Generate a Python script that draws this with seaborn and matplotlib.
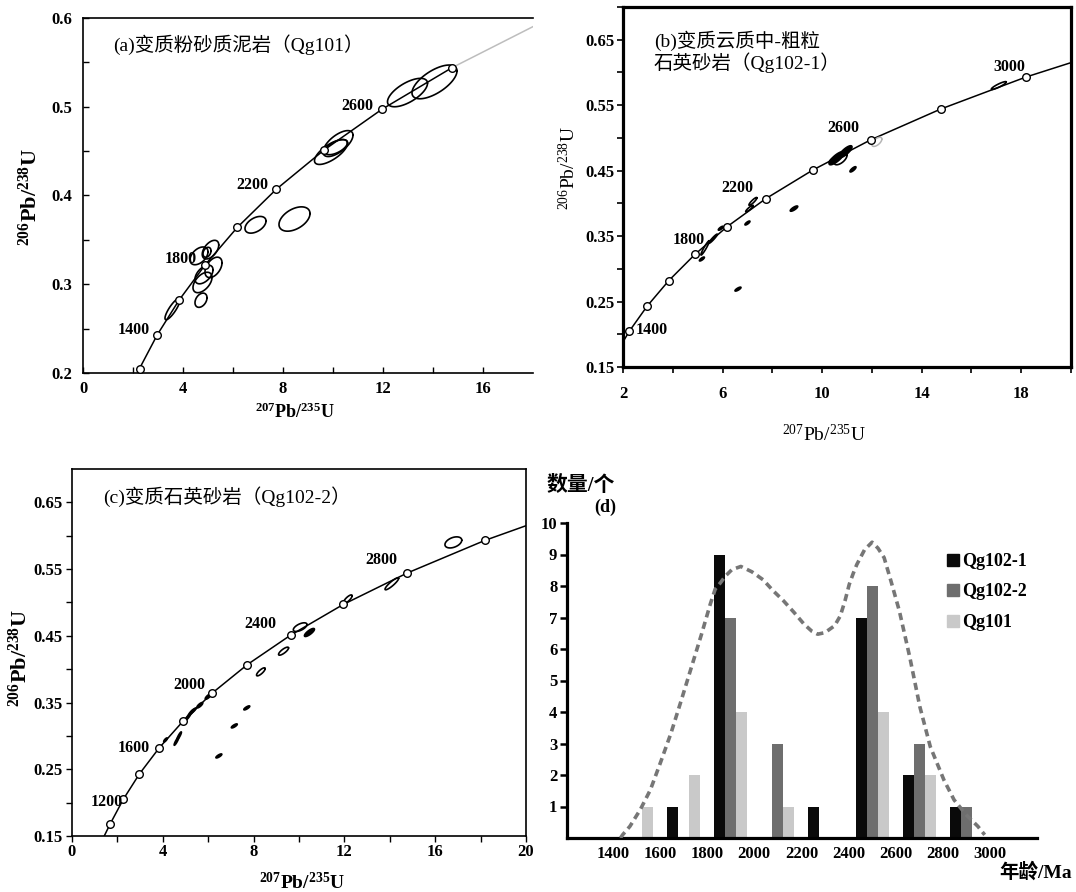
import numpy as np
import pandas as pd
import matplotlib
matplotlib.use("Agg")
import matplotlib.pyplot as plt
from matplotlib.lines import Line2D
import seaborn as sns

sns.set_style("ticks", rc={"axes.edgecolor": "black", "xtick.color": "black",
                           "ytick.color": "black", "text.color": "black"})
plt.rcParams['font.family'] = ['Liberation Serif', 'Noto Sans CJK SC']
plt.rcParams['mathtext.fontset'] = 'custom'
plt.rcParams['mathtext.rm'] = 'Liberation Serif'
plt.rcParams['mathtext.it'] = 'Liberation Serif:italic'
plt.rcParams['mathtext.bf'] = 'Liberation Serif:bold'

# concordia age marks (207Pb/235U, 206Pb/238U)
conc_age = [1000, 1200, 1400, 1600, 1800, 2000, 2200, 2400, 2600, 2800, 3000]
conc_x = [1.68, 2.26, 2.97, 3.84, 4.89, 6.17, 7.73, 9.63, 11.95, 14.76, 18.19]
conc_y = [0.168, 0.205, 0.243, 0.282, 0.322, 0.364, 0.407, 0.451, 0.497, 0.544, 0.593]
# where the curve leaves the frames
curve_x = [1.42] + conc_x + [20.0]
curve_y = [0.150] + conc_y + [0.615]

# (a) Qg101 ellipses: centre, half extent in x / y, correlation
a_ex = [12.98, 14.06, 9.92, 10.20, 10.13, 6.90, 8.46, 5.10, 4.64, 4.96, 5.22, 4.84, 4.78, 4.72, 3.58]
a_ey = [0.516, 0.528, 0.449, 0.4585, 0.4545, 0.367, 0.3735, 0.339, 0.332, 0.336, 0.319, 0.311, 0.302, 0.282, 0.272]
a_edx = [0.80, 0.90, 0.66, 0.60, 0.45, 0.42, 0.62, 0.33, 0.36, 0.16, 0.34, 0.36, 0.38, 0.24, 0.30]
a_edy = [0.016, 0.019, 0.014, 0.0146, 0.0085, 0.0094, 0.0137, 0.0105, 0.010, 0.0056, 0.0115, 0.0105, 0.0115, 0.008, 0.012]
a_er = [0.65, 0.65, 0.70, 0.65, 0.60, 0.45, 0.45, 0.5, 0.45, 0.3, 0.45, 0.5, 0.5, 0.35, 0.85]
a_kind = ['o'] * 15

# (b) Qg102-1 ellipses ('o' open, 'f' filled, 'l' light)
b_ex = [17.10, 12.20, 10.58, 10.94, 10.74, 10.40, 11.24, 8.87, 7.22, 7.08, 7.00, 6.62, 5.17, 5.30, 5.62, 5.93]
b_ey = [0.580, 0.494, 0.469, 0.479, 0.468, 0.466, 0.452, 0.392, 0.403, 0.392, 0.370, 0.269, 0.315, 0.332, 0.346, 0.362]
b_edx = [0.30, 0.20, 0.30, 0.26, 0.26, 0.12, 0.12, 0.15, 0.16, 0.15, 0.10, 0.12, 0.10, 0.17, 0.17, 0.10]
b_edy = [0.006, 0.007, 0.010, 0.009, 0.009, 0.004, 0.004, 0.004, 0.006, 0.005, 0.003, 0.003, 0.003, 0.011, 0.007, 0.003]
b_er = [0.9, 0.6, 0.8, 0.8, 0.6, 0.8, 0.8, 0.8, 0.9, 0.9, 0.8, 0.8, 0.8, 0.95, 0.95, 0.8]
b_kind = ['o', 'l', 'f', 'f', 'o', 'f', 'f', 'f', 'o', 'o', 'f', 'f', 'f', 'o', 'f', 'f']

# (c) Qg102-2 ellipses
c_ex = [16.80, 14.09, 12.15, 10.05, 10.46, 9.32, 8.32, 7.70, 7.15, 6.47, 5.10, 5.25, 5.35, 5.63, 6.00, 4.60, 4.72, 4.12]
c_ey = [0.590, 0.528, 0.505, 0.463, 0.455, 0.427, 0.396, 0.342, 0.315, 0.270, 0.328, 0.335, 0.338, 0.346, 0.359, 0.292, 0.300, 0.294]
c_edx = [0.37, 0.30, 0.19, 0.30, 0.22, 0.22, 0.19, 0.13, 0.13, 0.13, 0.12, 0.13, 0.12, 0.13, 0.13, 0.10, 0.10, 0.08]
c_edy = [0.0083, 0.009, 0.0063, 0.0065, 0.006, 0.006, 0.006, 0.003, 0.003, 0.003, 0.005, 0.005, 0.004, 0.004, 0.004, 0.006, 0.006, 0.003]
c_er = [0.4, 0.9, 0.8, 0.6, 0.8, 0.8, 0.8, 0.8, 0.8, 0.8, 0.9, 0.9, 0.9, 0.8, 0.8, 0.9, 0.9, 0.8]
c_kind = ['o', 'o', 'o', 'o', 'f', 'o', 'o', 'f', 'f', 'f', 'f', 'f', 'f', 'f', 'f', 'f', 'f', 'f']

# (d) age histogram, 200 Ma bins
bins = [1500, 1700, 1900, 2100, 2300, 2500, 2700, 2900]
qg102_1 = [0, 1, 9, 0, 1, 7, 2, 1]
qg102_2 = [0, 0, 7, 3, 0, 8, 3, 1]
qg101 = [1, 2, 4, 1, 0, 4, 2, 0]
samples = ['Qg102-1', 'Qg102-2', 'Qg101']
bar_colors = ['#0a0a0a', '#6e6e6e', '#c9c9c9']
# probability curve
kde_age = [1432, 1441, 1472, 1516, 1559, 1603, 1646, 1690, 1733, 1776, 1813, 1834, 1856, 1878,
           1905, 1943, 1990, 2037, 2080, 2124, 2170, 2211, 2245, 2269, 2300, 2341, 2365, 2385,
           2403, 2420, 2435, 2468, 2500, 2525, 2551, 2580, 2616, 2660, 2703, 2747, 2805, 2848,
           2899, 2949, 2978]
kde_val = [0.0, 0.10, 0.37, 0.90, 1.53, 2.42, 3.32, 4.37, 5.42, 6.47, 7.42, 7.90, 8.10, 8.32,
           8.52, 8.62, 8.45, 8.20, 7.85, 7.53, 7.15, 6.79, 6.56, 6.47, 6.52, 6.74, 7.05, 7.53,
           8.05, 8.40, 8.68, 9.15, 9.39, 9.20, 8.90, 8.16, 7.20, 5.74, 4.16, 2.90, 1.84, 1.21,
           0.74, 0.37, 0.10]

W, H = 1076, 892
TICK = 12


def box(x0, y0, x1, y1):
    return [x0 / W, 1 - y1 / H, (x1 - x0) / W, (y1 - y0) / H]


def ftext(px, py, s, **kw):
    fig.text(px / W, 1 - py / H, s, **kw)


def ellipse_xy(cx, cy, dx, dy, r):
    t = np.linspace(0, 2 * np.pi, 90)
    x = cx + dx * np.cos(t)
    y = cy + dy * (r * np.cos(t) + np.sqrt(1 - r * r) * np.sin(t))
    return x, y


def draw_ellipses(ax, ex, ey, edx, edy, er, kind):
    for cx, cy, dx, dy, r, k in zip(ex, ey, edx, edy, er, kind):
        x, y = ellipse_xy(cx, cy, dx, dy, r)
        if k == 'f':
            ax.fill(x, y, facecolor='black', edgecolor='black', lw=1.2, zorder=3)
        elif k == 'l':
            ax.plot(x, y, color='#b5b5b5', lw=1.1, zorder=3)
        else:
            ax.plot(x, y, color='black', lw=1.2, zorder=3)


def bold_ticks(ax):
    for lab in ax.get_xticklabels() + ax.get_yticklabels():
        lab.set_fontweight('bold')


def marks(ax, lo, hi):
    sel = [i for i, a in enumerate(conc_age) if lo <= a <= hi]
    sns.scatterplot(x=[conc_x[i] for i in sel], y=[conc_y[i] for i in sel], ax=ax,
                    marker='o', s=30, color='white', edgecolor='black', linewidth=1.0,
                    zorder=4, clip_on=False, legend=False)


def age_labels(ax, labs):
    for s, x, y in labs:
        ax.text(x, y, s, fontsize=11.5, fontweight='bold', ha='center', va='center', zorder=5)


fig = plt.figure(figsize=(W / 100, H / 100), dpi=100)
ax_a = fig.add_axes(box(83, 18, 533, 373))
ax_b = fig.add_axes(box(623, 7, 1071, 367))
ax_c = fig.add_axes(box(72, 469, 526, 836))
ax_d = fig.add_axes(box(567, 523, 1037, 838))

# ---- (a)
k28 = conc_x.index(14.76) + 1
sns.lineplot(x=curve_x[:k28 + 1], y=curve_y[:k28 + 1], ax=ax_a, color='black', lw=1.1,
             sort=False, estimator=None, zorder=2)
sns.lineplot(x=curve_x[k28:], y=curve_y[k28:], ax=ax_a, color='#bdbdbd', lw=1.1,
             sort=False, estimator=None, zorder=2)
draw_ellipses(ax_a, a_ex, a_ey, a_edx, a_edy, a_er, a_kind)
marks(ax_a, 1200, 2800)
age_labels(ax_a, [('1400', 2.04, 0.248), ('1800', 3.92, 0.328), ('2200', 6.76, 0.412), ('2600', 10.97, 0.501)])
ax_a.set_xlim(0, 18)
ax_a.set_ylim(0.2, 0.6)
ax_a.set_xticks([0, 4, 8, 12, 16])
ax_a.set_xticks([2, 6, 10, 14], minor=True)
ax_a.set_yticks([0.2, 0.3, 0.4, 0.5, 0.6], ['0.2', '0.3', '0.4', '0.5', '0.6'])
ax_a.set_yticks([0.25, 0.35, 0.45, 0.55], minor=True)
ax_a.tick_params(which='both', direction='in', length=4, width=1, labelsize=TICK)
ax_a.tick_params(axis='y', pad=8)
ax_a.tick_params(axis='x', pad=6)
ax_a.spines['right'].set_visible(False)
for s in ['left', 'bottom', 'top']:
    ax_a.spines[s].set_linewidth(1.2)
bold_ticks(ax_a)
ax_a.text(0.067, 0.924, '(a)变质粉砂质泥岩（Qg101）', transform=ax_a.transAxes,
          fontsize=14, ha='left', va='center')

# ---- (b)
sns.lineplot(x=curve_x, y=curve_y, ax=ax_b, color='black', lw=1.1, sort=False,
             estimator=None, zorder=2)
draw_ellipses(ax_b, b_ex, b_ey, b_edx, b_edy, b_er, b_kind)
marks(ax_b, 1200, 3000)
age_labels(ax_b, [('1400', 3.17, 0.207), ('1800', 4.66, 0.344), ('2200', 6.58, 0.423),
                  ('2600', 10.87, 0.515), ('3000', 17.52, 0.608)])
ax_b.set_xlim(2, 20)
ax_b.set_ylim(0.15, 0.70)
ax_b.set_xticks([2, 6, 10, 14, 18])
ax_b.set_xticks([4, 8, 12, 16, 20], minor=True)
ax_b.set_yticks([0.15, 0.25, 0.35, 0.45, 0.55, 0.65])
ax_b.set_yticks([0.20, 0.30, 0.40, 0.50, 0.60, 0.70], minor=True)
ax_b.tick_params(which='both', direction='out', length=4, width=1.2, labelsize=TICK)
ax_b.tick_params(axis='x', pad=10)
ax_b.tick_params(axis='y', pad=2)
for s in ax_b.spines.values():
    s.set_linewidth(2.3)
bold_ticks(ax_b)
ax_b.text(0.069, 0.875, '(b)变质云质中-粗粒\n石英砂岩（Qg102-1）', transform=ax_b.transAxes,
          fontsize=14, ha='left', va='center', linespacing=1.1)

# ---- (c)
sns.lineplot(x=curve_x, y=curve_y, ax=ax_c, color='black', lw=1.1, sort=False,
             estimator=None, zorder=2)
draw_ellipses(ax_c, c_ex, c_ey, c_edx, c_edy, c_er, c_kind)
marks(ax_c, 1000, 3000)
age_labels(ax_c, [('1200', 1.53, 0.2013), ('1600', 2.72, 0.2817), ('2000', 5.16, 0.376),
                  ('2400', 8.32, 0.468), ('2800', 13.63, 0.563)])
ax_c.set_xlim(0, 20)
ax_c.set_ylim(0.15, 0.70)
ax_c.set_xticks([0, 4, 8, 12, 16, 20])
ax_c.set_xticks([2, 6, 10, 14, 18], minor=True)
ax_c.set_yticks([0.15, 0.25, 0.35, 0.45, 0.55, 0.65])
ax_c.set_yticks([0.20, 0.30, 0.40, 0.50, 0.60], minor=True)
ax_c.tick_params(which='both', direction='out', length=4, width=1, labelsize=TICK)
ax_c.tick_params(axis='x', pad=2)
ax_c.tick_params(axis='y', pad=3)
for s in ax_c.spines.values():
    s.set_linewidth(1.2)
bold_ticks(ax_c)
ax_c.text(0.068, 0.924, '(c)变质石英砂岩（Qg102-2）', transform=ax_c.transAxes,
          fontsize=14, ha='left', va='center')

# axis titles
ylab = r'$\mathbf{^{206}Pb/^{238}U}$'
xlab = r'$\mathbf{^{207}Pb/^{235}U}$'
ftext(30, 197, ylab, fontsize=16, rotation=90, ha='center', va='center')
ftext(295, 412, xlab, fontsize=13, ha='center', va='center')
ftext(568, 168, r'$^{206}\mathrm{Pb}/^{238}\mathrm{U}$', fontsize=14, rotation=90, ha='center', va='center')
ftext(824, 435, r'$^{207}\mathrm{Pb}/^{235}\mathrm{U}$', fontsize=14, ha='center', va='center')
ftext(20, 658, ylab, fontsize=16, rotation=90, ha='center', va='center')
ftext(302, 882, xlab, fontsize=14, ha='center', va='center')

# ---- (d)
df = pd.DataFrame({'bin': bins * 3,
                   'sample': [s for s in samples for _ in bins],
                   'count': qg102_1 + qg102_2 + qg101})
sns.barplot(data=df, x='bin', y='count', hue='sample', hue_order=samples,
            palette=bar_colors, native_scale=True, width=0.7, dodge=True,
            errorbar=None, linewidth=0, legend=False, ax=ax_d, zorder=2)
sns.lineplot(x=kde_age, y=kde_val, ax=ax_d, color='#767676', lw=2.6, sort=False,
             estimator=None, zorder=3)
ax_d.lines[-1].set_linestyle((0, (2.0, 1.3)))
ax_d.set_xlim(1205, 3200)
ax_d.set_ylim(0, 10)
ax_d.set_xticks(list(range(1400, 3001, 200)))
ax_d.set_yticks(list(range(1, 11)))
ax_d.set_xlabel('')
ax_d.set_ylabel('')
ax_d.tick_params(axis='x', length=0, pad=6, labelsize=TICK)
ax_d.tick_params(axis='y', direction='out', length=5, width=1.8, pad=2, labelsize=TICK)
sns.despine(ax=ax_d)
for s in ['left', 'bottom']:
    ax_d.spines[s].set_linewidth(2.3)
bold_ticks(ax_d)
handles = [Line2D([], [], ls='', marker='s', markersize=9, color=c) for c in bar_colors]
ax_d.legend(handles, samples, loc='upper left', bbox_to_anchor=(0.805, 0.905), frameon=False,
            handlelength=0.8, handletextpad=0.15, labelspacing=0.75, borderpad=0,
            borderaxespad=0, prop={'size': 13, 'weight': 'bold', 'family': ['Liberation Serif']})
ftext(581, 486, '数量/个', fontsize=15, fontweight='bold', ha='center', va='center')
ftext(605, 507, '(d)', fontsize=13, fontweight='bold', ha='center', va='center')
ftext(1036, 872, '年龄/Ma', fontsize=14, fontweight='bold', ha='center', va='center')

fig.savefig('out.png', dpi=100)
